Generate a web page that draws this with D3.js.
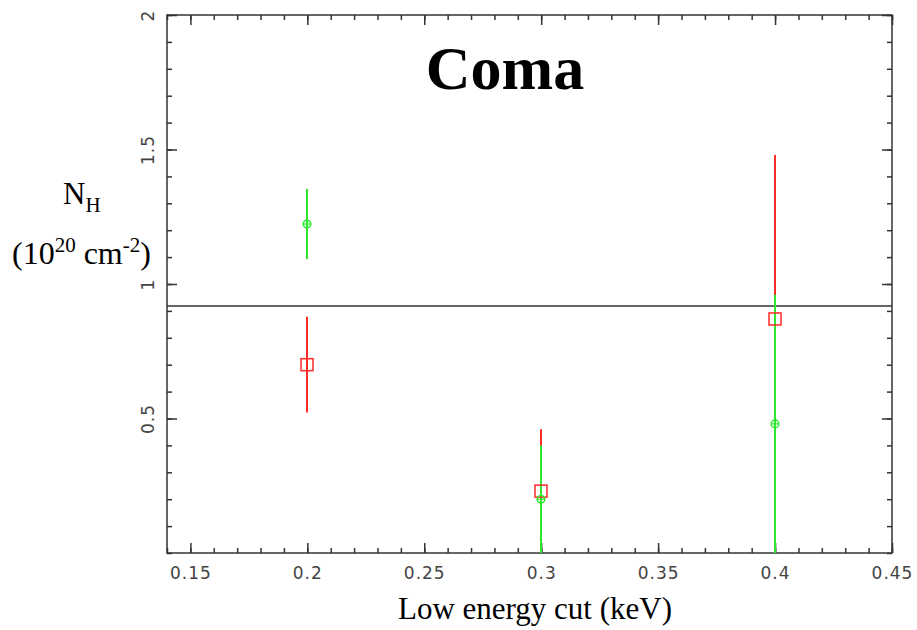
<!DOCTYPE html>
<html>
<head>
<meta charset="utf-8">
<script src="https://cdn.jsdelivr.net/npm/d3@7"></script>
<style>
  body { margin: 0; background: #fff; }
  .tick text { font-family: 'DejaVu Sans', sans-serif; font-size: 17px; fill: #444; letter-spacing: 1px; }
  .domain { display: none; }
</style>
</head>
<body>
<div id="chart"></div>
<script>
// Data
const cuts = [0.2, 0.3, 0.4];
const redValues = [0.70, 0.23, 0.87];
const redErrors = [0.178, 0.23, 0.61];
const greenValues = [1.223, 0.20, 0.48];
const greenErrors = [0.13, 0.20, 0.48];
const refLevel = 0.918;
const xTicks = [0.15, 0.2, 0.25, 0.3, 0.35, 0.4, 0.45];
const yTicks = [0.5, 1, 1.5, 2];

// Plot area
const plotLeft = 167, plotRight = 892, plotTop = 15, plotBottom = 553;

const svg = d3.select('#chart')
  .append('svg')
  .attr('width', 917)
  .attr('height', 630);

const x = d3.scaleLinear().domain([0.14, 0.45]).range([plotLeft, plotRight]);
const y = d3.scaleLinear().domain([0, 2]).range([plotBottom, plotTop]);

const minorX = d3.range(14, 46).map(d => d / 100);
const minorY = d3.range(0, 21).map(d => d / 10);

// frame
svg.append('rect')
  .attr('x', plotLeft).attr('y', plotTop)
  .attr('width', plotRight - plotLeft).attr('height', plotBottom - plotTop)
  .attr('fill', 'none').attr('stroke', '#333').attr('stroke-width', 1.5);

// minor ticks (inward)
const tickStyle = g => g.selectAll('line').attr('stroke', '#333').attr('stroke-width', 1.5);
svg.append('g').attr('transform', `translate(0,${plotBottom})`)
  .call(d3.axisBottom(x).tickValues(minorX).tickSize(-5).tickFormat(''))
  .call(tickStyle);
svg.append('g').attr('transform', `translate(0,${plotTop})`)
  .call(d3.axisTop(x).tickValues(minorX).tickSize(-5).tickFormat(''))
  .call(tickStyle);
svg.append('g').attr('transform', `translate(${plotLeft},0)`)
  .call(d3.axisLeft(y).tickValues(minorY).tickSize(-5).tickFormat(''))
  .call(tickStyle);
svg.append('g').attr('transform', `translate(${plotRight},0)`)
  .call(d3.axisRight(y).tickValues(minorY).tickSize(-5).tickFormat(''))
  .call(tickStyle);

// major ticks
svg.append('g').attr('transform', `translate(0,${plotBottom})`)
  .call(d3.axisBottom(x).tickValues(xTicks).tickSize(-10).tickPadding(14).tickFormat(d3.format('')))
  .call(tickStyle);
svg.append('g').attr('transform', `translate(0,${plotTop})`)
  .call(d3.axisTop(x).tickValues(xTicks).tickSize(-10).tickFormat(''))
  .call(tickStyle);
svg.append('g').attr('transform', `translate(${plotRight},0)`)
  .call(d3.axisRight(y).tickValues(yTicks).tickSize(-10).tickFormat(''))
  .call(tickStyle);
svg.append('g').attr('transform', `translate(${plotLeft},0)`)
  .call(d3.axisLeft(y).tickValues(yTicks).tickSize(-10).tickFormat(d3.format('')))
  .call(tickStyle)
  .selectAll('text')
  .attr('transform', 'rotate(-90)')
  .attr('x', 0).attr('y', -13).attr('dy', 0)
  .attr('text-anchor', 'middle');

// reference line
svg.append('line')
  .attr('x1', plotLeft).attr('x2', plotRight)
  .attr('y1', y(refLevel)).attr('y2', y(refLevel))
  .attr('stroke', '#333').attr('stroke-width', 1.5);

const red = '#ff2a2a', green = '#2ee82e';
const redData = cuts.map((c, i) => ({ x: c, v: redValues[i], e: redErrors[i] }));
const greenData = cuts.map((c, i) => ({ x: c, v: greenValues[i], e: greenErrors[i] }));
const px = v => Math.round(x(v));

// error bars
function errBars(data, color) {
  svg.append('g').selectAll('line')
    .data(data).enter().append('line')
    .attr('x1', d => px(d.x)).attr('x2', d => px(d.x))
    .attr('y1', d => y(Math.max(0, d.v - d.e)))
    .attr('y2', d => y(d.v + d.e))
    .attr('stroke', color).attr('stroke-width', 2);
}
errBars(redData, red);
errBars(greenData, green);

// red squares
svg.append('g').selectAll('rect')
  .data(redData).enter().append('rect')
  .attr('x', d => px(d.x) - 6).attr('y', d => y(d.v) - 6)
  .attr('width', 12).attr('height', 12)
  .attr('fill', 'none').attr('stroke', red).attr('stroke-width', 1.5);

// green circles with cross
const gm = svg.append('g').selectAll('g')
  .data(greenData).enter().append('g')
  .attr('transform', d => `translate(${px(d.x)},${y(d.v)})`);
gm.append('circle').attr('r', 3.8)
  .attr('fill', 'none').attr('stroke', green).attr('stroke-width', 1.5);
gm.append('line').attr('x1', -3.8).attr('x2', 3.8)
  .attr('stroke', green).attr('stroke-width', 1.2);

// title
svg.append('text')
  .attr('x', 505).attr('y', 89)
  .attr('text-anchor', 'middle')
  .attr('font-family', '"Liberation Serif", serif')
  .attr('font-weight', 'bold')
  .attr('font-size', '62px')
  .text('Coma');

// x-axis label
svg.append('text')
  .attr('x', 535).attr('y', 619)
  .attr('text-anchor', 'middle')
  .attr('font-family', '"Liberation Serif", serif')
  .attr('font-size', '31px')
  .text('Low energy cut (keV)');

// y-axis label
const yl1 = svg.append('text')
  .attr('x', 63).attr('y', 204)
  .attr('font-family', '"Liberation Serif", serif')
  .attr('font-size', '31px');
yl1.append('tspan').text('N');
yl1.append('tspan').attr('font-size', '21px').attr('dy', 8).text('H');

const yl2 = svg.append('text')
  .attr('x', 12).attr('y', 264)
  .attr('font-family', '"Liberation Serif", serif')
  .attr('font-size', '32px');
yl2.append('tspan').text('(10');
yl2.append('tspan').attr('font-size', '21px').attr('dy', -12).text('20');
yl2.append('tspan').attr('dy', 12).text(' cm');
yl2.append('tspan').attr('font-size', '21px').attr('dy', -12).text('-2');
yl2.append('tspan').attr('dy', 12).text(')');
</script>
</body>
</html>
